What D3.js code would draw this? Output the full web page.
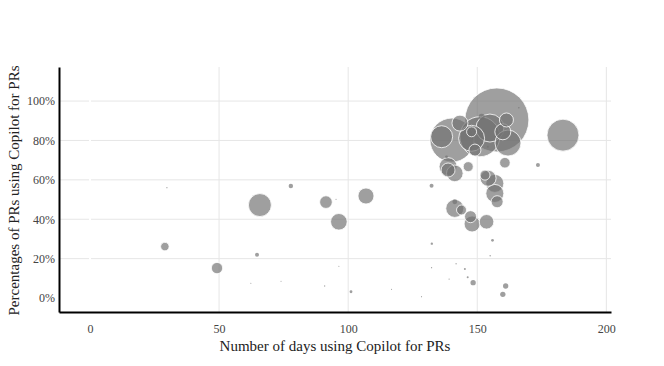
<!DOCTYPE html>
<html>
<head>
<meta charset="utf-8">
<script src="https://cdn.jsdelivr.net/npm/d3@7"></script>
<style>
  body { margin: 0; background: #fff; }
  svg text { font-family: "Liberation Serif", "DejaVu Serif", serif; }
</style>
</head>
<body>
<svg id="chart" width="664" height="366"></svg>
<script>
// days using copilot, % of PRs using copilot, PR count (bubble size)
let days = [29.0, 49.2, 65.8, 77.8, 91.4, 96.4, 106.9, 64.7, 101.1, 29.8,
  132.3, 183.2, 173.5, 155.9, 132.4, 148.4, 161.0, 159.9, 155.0, 145.2,
  141.8, 146.3, 139.1, 132.3, 62.3, 74.0, 90.9, 116.8, 96.4, 95.3,
  128.4, 141.3, 141.3, 143.9, 147.4, 148.0, 153.6, 154.2, 156.8, 156.8,
  157.7, 138.7, 141.3, 146.5, 160.7, 157.6, 140.2, 136.2, 151.0, 147.8,
  149.1, 147.8, 138.1, 161.3, 159.9, 153.0, 161.9, 166.1, 154.1, 151.7,
  154.9, 143.3, 138.7];
let pct = [26.1, 15.2, 47.2, 56.9, 48.7, 38.7, 51.8, 22.0, 3.2, 56.0,
  57.0, 82.7, 67.5, 29.3, 27.6, 7.8, 6.1, 1.9, 21.5, 14.7,
  17.4, 10.5, 9.6, 15.4, 7.5, 8.5, 6.1, 4.4, 16.1, 50.1,
  0.7, 45.5, 48.9, 44.7, 41.3, 37.6, 38.7, 60.8, 58.2, 53.1,
  48.9, 66.7, 63.3, 66.7, 68.7, 90.4, 80.2, 81.9, 81.9, 81.1,
  75.1, 84.4, 71.7, 90.4, 84.4, 62.4, 78.7, 96.6, 76.8, 92.0,
  86.3, 88.8, 65.0];
let prs = [18, 32, 132, 5, 40, 69, 64, 4, 2, 0.4,
  4, 256, 4, 2, 1.4, 7, 7, 7, 0.5, 1,
  0.4, 1, 0.4, 0.4, 0.3, 0.3, 0.4, 0.3, 0.3, 0.3,
  0.3, 81, 6, 25, 36, 64, 53, 64, 81, 81,
  36, 81, 69, 25, 28, 1024, 484, 121, 400, 169,
  36, 25, 2, 49, 64, 25, 169, 0.6, 1, 9,
  196, 64, 49];

let xTicks = [0, 50, 100, 150, 200];
let yTicks = [0, 20, 40, 60, 80, 100];

let svg = d3.select("#chart");
let margin = { left: 59, top: 67, right: 53, bottom: 54 };
let w = 664 - margin.left - margin.right;
let h = 366 - margin.top - margin.bottom;

let x = d3.scaleLinear().domain([-12, 201.8]).range([0, w]);
let y = d3.scaleLinear().domain([-7.1, 117.3]).range([h, 0]);
let r = d3.scaleSqrt().domain([0, d3.max(prs)]).range([0, 32]);

let g = svg.append("g").attr("transform", "translate(" + margin.left + "," + margin.top + ")");

// grid
g.selectAll("line.vgrid")
  .data(xTicks)
  .join("line")
    .attr("class", "vgrid")
    .attr("x1", d => x(d)).attr("x2", d => x(d))
    .attr("y1", 0).attr("y2", h)
    .attr("stroke", "#e6e6e6").attr("stroke-width", 1);

g.selectAll("line.hgrid")
  .data(yTicks.filter(d => d != 0))
  .join("line")
    .attr("class", "hgrid")
    .attr("x1", 0).attr("x2", w)
    .attr("y1", d => y(d)).attr("y2", d => y(d))
    .attr("stroke", "#e6e6e6").attr("stroke-width", 1);

// zerolines (white)
g.append("line")
  .attr("x1", x(0)).attr("x2", x(0)).attr("y1", 0).attr("y2", h)
  .attr("stroke", "#fff").attr("stroke-width", 2);

// bubbles, big ones underneath
let pts = days.map((d, i) => ({ days: d, pct: pct[i], prs: prs[i] }))
  .sort((a, b) => b.prs - a.prs);

g.selectAll("circle")
  .data(pts)
  .join("circle")
    .attr("cx", d => x(d.days))
    .attr("cy", d => y(d.pct))
    .attr("r", d => r(d.prs))
    .attr("fill", "#727272")
    .attr("fill-opacity", 0.68)
    .attr("stroke", "#fff")
    .attr("stroke-opacity", 0.8)
    .attr("stroke-width", d => r(d.prs) > 3 ? 1 : 0);

// axes
let xAxis = d3.axisBottom(x).tickValues(xTicks).tickSize(0).tickPadding(12);
let yAxis = d3.axisLeft(y).tickValues(yTicks).tickSize(0).tickPadding(4)
  .tickFormat(d => d + "%");

let gx = g.append("g").attr("transform", "translate(0," + h + ")").call(xAxis);
let gy = g.append("g").call(yAxis);

[gx, gy].forEach(a => {
  a.select(".domain").attr("stroke", "#000").attr("stroke-width", 2);
  a.selectAll("text").attr("font-size", 12).attr("fill", "#444")
    .attr("font-family", "Liberation Serif, serif");
});

// titles
svg.append("text")
  .attr("x", margin.left + w / 2 + 0)
  .attr("y", 351)
  .attr("text-anchor", "middle")
  .attr("font-size", 15)
  .attr("fill", "#222")
  .text("Number of days using Copilot for PRs");

svg.append("text")
  .attr("transform", "translate(14," + (margin.top + h / 2 + 1) + ") rotate(-90)")
  .attr("text-anchor", "middle")
  .attr("dominant-baseline", "central")
  .attr("font-size", 15)
  .attr("fill", "#222")
  .text("Percentages of PRs using Copilot for PRs");
</script>
</body>
</html>
